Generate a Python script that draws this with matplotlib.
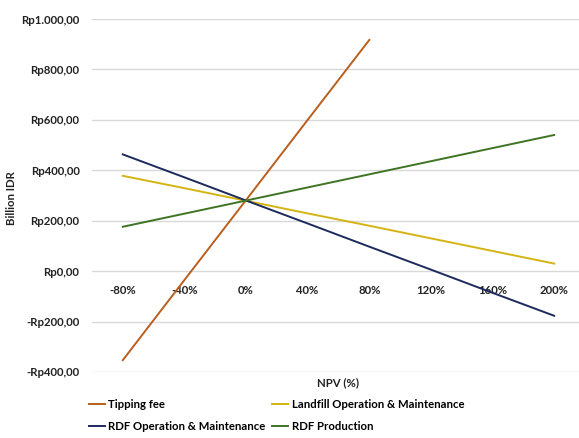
import matplotlib
matplotlib.use('Agg')
import matplotlib.pyplot as plt
from matplotlib.ticker import FuncFormatter

# sensitivity of NPV (billion IDR) to each parameter change
changes = ["-80%", "-40%", "0%", "40%", "80%", "120%", "160%", "200%"]
tipping_fee = [-353, -35, 282, 600, 917]
landfill_om = [378, 329, 279, 229, 180, 130, 80, 30]
rdf_om = [463, 372, 280, 189, 97, 6, -86, -177]
rdf_production = [176, 228, 280, 332, 384, 436, 488, 540]

plt.rcParams['font.family'] = ['Lato', 'DejaVu Sans']
plt.rcParams['font.weight'] = 'bold'

fig = plt.figure(figsize=(5.79, 4.38), dpi=100)
ax = fig.add_axes([92 / 579, (438 - 372) / 438, 493 / 579, (372 - 19) / 438])

x = list(range(len(changes)))
l1, = ax.plot(x[:len(tipping_fee)], tipping_fee, color='#B95E1E', lw=1.4, label='Tipping fee')
l2, = ax.plot(x, landfill_om, color='#D4B412', lw=1.4, label='Landfill Operation & Maintenance')
l3, = ax.plot(x, rdf_om, color='#1C2A5C', lw=1.4, label='RDF Operation & Maintenance')
l4, = ax.plot(x, rdf_production, color='#3F7424', lw=1.4, label='RDF Production')

ax.set_xlim(-0.5, 7.5)
ax.set_ylim(-400, 1000)
ax.set_yticks(range(-400, 1001, 200))


def rupiah(v, pos):
    s = f"{abs(v):,.2f}".replace(",", " ").replace(".", ",").replace(" ", ".")
    return ("-" if v < 0 else "") + "Rp" + s


ax.yaxis.set_major_formatter(FuncFormatter(rupiah))
ax.set_xticks(x)
ax.set_xticklabels(changes)
ax.spines['bottom'].set_position(('data', 0))
for s in ax.spines.values():
    s.set_visible(False)
ax.tick_params(axis='both', length=0, labelsize=8.2, colors='#222222')
ax.tick_params(axis='x', pad=10)
ax.tick_params(axis='y', pad=9)
ax.grid(axis='y', color='#D9D9D9', lw=1)
ax.set_axisbelow(True)

fig.text(12 / 579, 1 - 198 / 438, 'Billion IDR', rotation=90, ha='center', va='center',
         fontsize=8.2, fontweight='bold', color='#222222')
fig.text(338 / 579, 1 - 383 / 438, 'NPV (%)', ha='center', va='center',
         fontsize=8.2, fontweight='bold', color='#222222')

# legend fills column-wise, so order the handles to read row by row
fig.legend([l1, l3, l2, l4], [l.get_label() for l in (l1, l3, l2, l4)],
           loc='upper left', bbox_to_anchor=(89 / 579, 1 - 399 / 438), ncol=2, frameon=False,
           fontsize=8.2, handlelength=1.4, handletextpad=0.3, columnspacing=0.6,
           labelspacing=1.0, borderaxespad=0, borderpad=0)

fig.savefig('out.png', dpi=100)
